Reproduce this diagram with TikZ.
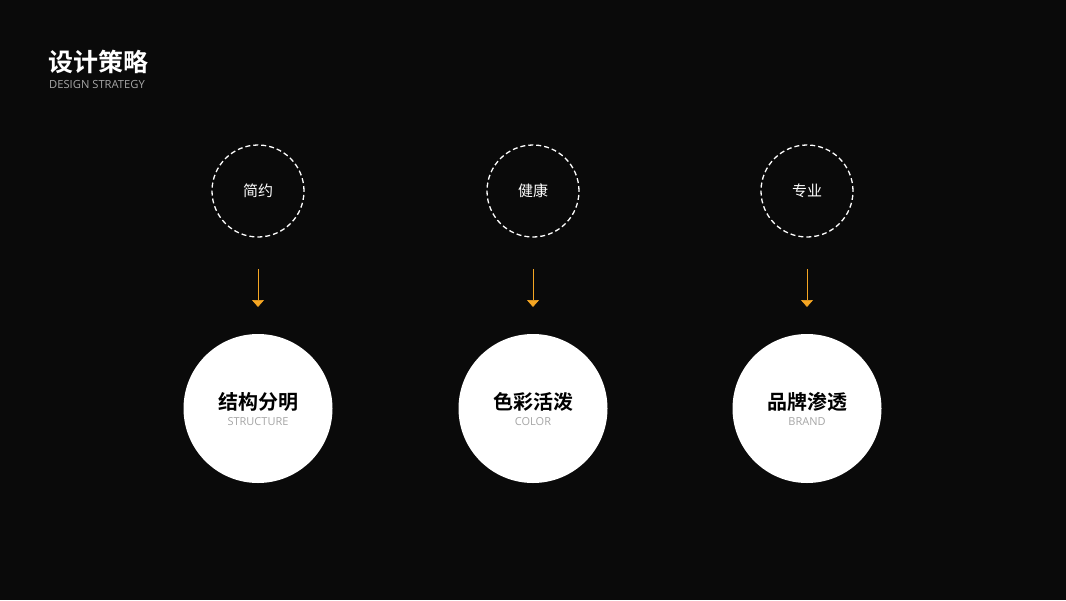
\documentclass[tikz,border=0pt]{standalone}
\usepackage{fontspec}
\setmainfont{Open Sans}
\newfontfamily\cjk{Noto Sans CJK SC}
\newfontfamily\cjkb{Noto Sans CJK SC Bold}
\newfontfamily\latin{Open Sans}
\usetikzlibrary{arrows.meta}
\definecolor{bg}{HTML}{0A0A0A}
\definecolor{accent}{HTML}{F5A623}
\definecolor{subgray}{HTML}{A6A6A6}
\begin{document}
\begin{tikzpicture}[x=1pt,y=-1pt,
  dashcircle/.style={circle,draw=white,dashed,dash pattern=on 5pt off 3pt,line width=1.3pt,minimum size=92pt,inner sep=0pt,text=white,font=\cjk\fontsize{15}{15}\selectfont},
  bigcircle/.style={circle,fill=white,minimum size=149pt,inner sep=0pt},
  maintext/.style={font=\cjkb\fontsize{20}{20}\selectfont,text=black,inner sep=0pt},
  subtext/.style={font=\latin\fontsize{11}{11}\selectfont,text=subgray,inner sep=0pt},
  flow/.style={draw=accent,line width=0.7pt,-{Triangle[width=12pt,length=7pt]}}]
\fill[bg] (0,0) rectangle (1066,600);
\useasboundingbox (0,0) rectangle (1066,600);
\node[anchor=west,text=white,font=\cjkb\fontsize{25}{25}\selectfont,inner sep=0pt] (title) at (48,62) {设计策略};
\node[anchor=west,text=subgray,font=\latin\fontsize{11.2}{11.2}\selectfont,inner sep=0pt] (subtitle) at (49,84) {DESIGN STRATEGY};
\foreach \i/\x/\a/\b/\c in {1/258/简约/结构分明/STRUCTURE,2/533/健康/色彩活泼/COLOR,3/807/专业/品牌渗透/BRAND}{
  \node[dashcircle] (d\i) at (\x,191) {\a};
  \coordinate (s\i) at (\x,269);
  \coordinate (e\i) at (\x,307);
  \draw[flow] (s\i) -- (e\i);
  \node[bigcircle] (c\i) at (\x,408.5) {};
  \node[maintext] (m\i) at (\x,402) {\b};
  \node[subtext] (t\i) at (\x,422) {\c};
}
\end{tikzpicture}
\end{document}
